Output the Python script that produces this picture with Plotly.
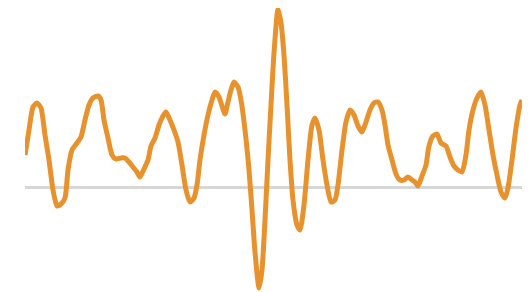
import plotly.graph_objects as go

t = [0, 4, 8, 12, 16, 20, 24, 28, 32, 36, 40, 43, 47, 52, 56, 60, 64, 68, 73, 76,
     79, 83, 87, 91, 96, 100, 104, 108, 112, 115, 119, 123, 126, 130, 134, 138, 141, 145, 149, 153,
     157, 161, 165, 169, 172, 175, 179, 183, 187, 190, 194, 197, 200, 203, 206, 209, 213, 216, 220, 224,
     227, 230, 234, 237, 240, 243, 246, 249, 253, 256, 259, 262, 265, 268, 272, 275, 279, 283, 287, 290,
     294, 298, 302, 306, 310, 313, 317, 321, 325, 329, 333, 337, 341, 345, 349, 353, 357, 360, 363, 367,
     371, 375, 379, 383, 387, 390, 393, 397, 401, 404, 408, 412, 416, 421, 425, 429, 433, 437, 441, 444,
     448, 452, 456, 460, 464, 468, 472, 476, 480, 483, 487, 491, 495, 497]
values = [3.2, 5.7, 8.0, 8.4, 7.9, 5.2, 2.7, -0.3, -1.9, -1.7, -1.1, 1.7, 3.7, 4.4, 5.0, 6.7, 8.2, 8.9, 9.1, 8.7,
          6.7, 4.9, 3.2, 2.8, 2.9, 2.9, 2.5, 2.0, 1.5, 1.0, 1.8, 2.7, 4.1, 4.9, 6.2, 7.1, 7.5, 6.7, 5.7, 4.5,
          2.2, -0.3, -1.5, -1.1, 0.2, 2.7, 5.2, 7.2, 8.7, 9.5, 9.0, 8.1, 7.3, 8.5, 9.7, 10.5, 10.0, 8.7, 5.7, 1.7,
          -2.3, -6.5, -10.1, -8.3, -3.3, 2.7, 8.2, 13.4, 17.8, 16.4, 13.2, 8.2, 2.7, -1.3, -3.8, -4.3, -1.8, 2.7, 6.2, 6.9,
          5.7, 2.7, 0.2, -1.5, -1.3, 0.2, 3.7, 6.5, 7.7, 7.2, 6.1, 5.5, 6.5, 7.7, 8.4, 8.5, 7.7, 6.2, 4.2, 2.7,
          1.3, 0.7, 0.7, 1.0, 0.7, 0.5, 0.1, 1.1, 2.2, 4.1, 5.1, 5.3, 4.4, 4.1, 3.0, 2.1, 1.7, 1.5, 3.2, 5.7,
          7.7, 8.9, 9.5, 8.2, 5.7, 3.2, 1.2, -0.5, -1.1, -0.1, 2.7, 5.9, 8.2, 8.7]

fig = go.Figure(go.Scatter(
    x=t, y=values, mode="lines",
    line=dict(color="#E8922D", width=5, shape="spline", smoothing=0.6),
    hoverinfo="skip", cliponaxis=False,
))
fig.update_layout(
    width=530, height=292,
    margin=dict(l=17, r=16, t=0, b=8),
    paper_bgcolor="white", plot_bgcolor="white",
    showlegend=False,
    xaxis=dict(range=[0, 497], visible=False, showgrid=False),
    yaxis=dict(range=[-10.5, 17.9], showgrid=False, showticklabels=False, ticks="",
               zeroline=True, zerolinecolor="#d6d6d6", zerolinewidth=3, showline=False),
)
fig.write_html("out.html")
